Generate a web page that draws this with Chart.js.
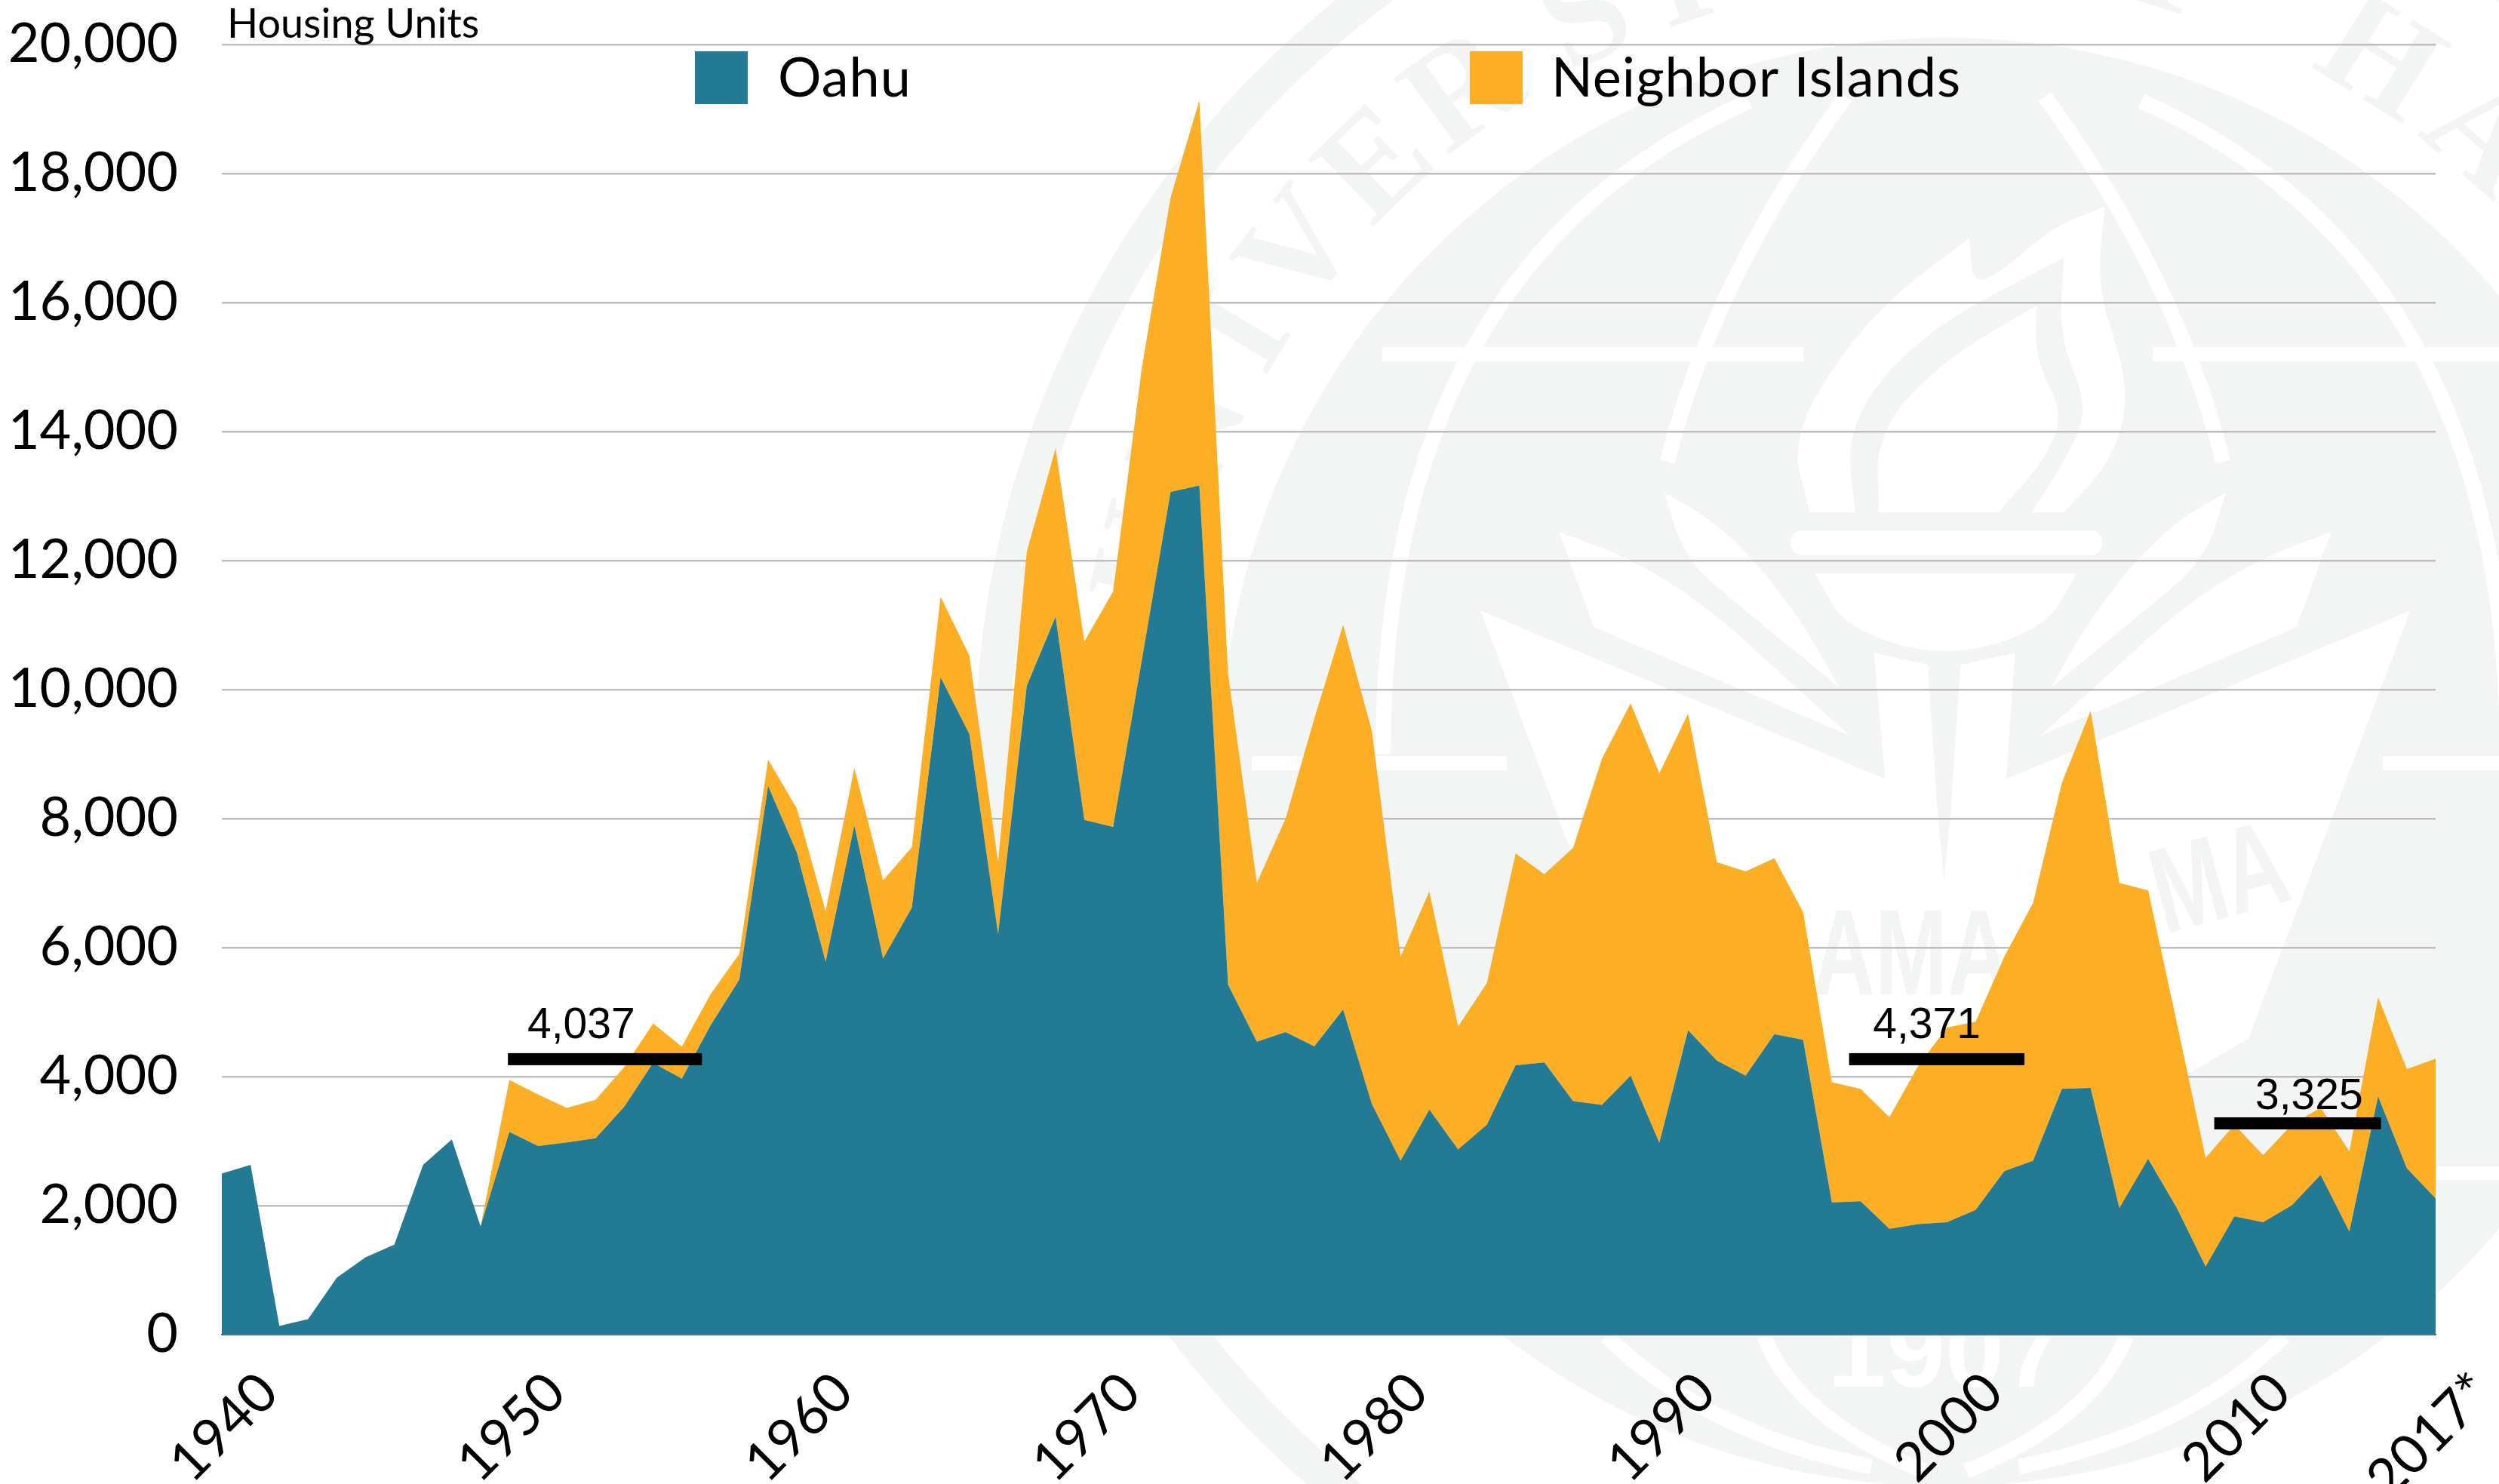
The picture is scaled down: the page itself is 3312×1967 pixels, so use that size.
<!DOCTYPE html>
<html>
<head>
<meta charset="utf-8">
<title>Housing Units</title>
<script src="https://cdn.jsdelivr.net/npm/chart.js@4/dist/chart.umd.min.js"></script>
<style>html,body{margin:0;padding:0;background:#fff}canvas{display:block}</style>
</head>
<body>
<canvas id="c" width="3312" height="1967"></canvas>
<script>
const years = [1940,1941,1942,1943,1944,1945,1946,1947,1948,1949,1950,1951,1952,1953,1954,1955,1956,1957,1958,1959,
  1960,1961,1962,1963,1964,1965,1966,1967,1968,1969,1970,1971,1972,1973,1974,1975,1976,1977,1978,1979,
  1980,1981,1982,1983,1984,1985,1986,1987,1988,1989,1990,1991,1992,1993,1994,1995,1996,1997,1998,1999,
  2000,2001,2002,2003,2004,2005,2006,2007,2008,2009,2010,2011,2012,2013,2014,2015,2016,2017];
const oahu = [2497,2632,135,239,884,1200,1394,2632,3026,1677,
  3142,2923,2980,3045,3535,4213,3968,4794,5503,8507,
  7474,5780,7895,5830,6620,10190,9310,6210,10060,11130,
  7980,7870,10460,13065,13165,5425,4542,4689,4469,5040,
  3575,2696,3487,2872,3253,4176,4220,3619,3560,4015,
  2974,4718,4249,4015,4659,4571,2051,2066,1641,1714,
  1744,1934,2535,2696,3810,3824,1963,2725,1963,1055,
  1832,1744,2007,2476,1597,3692,2579,2110];
const neighborIslands = [0,0,0,0,0,0,0,0,0,0,
  806,800,536,594,613,613,497,483,400,409,
  681,788,889,1210,935,1250,1220,1110,2080,2610,
  2765,3650,4530,4565,5970,4815,2462,3311,5084,5964,
  5788,3165,3385,1905,2198,3282,2916,3927,5363,5773,
  5729,4908,3077,3165,2726,1978,1861,1744,1729,2450,
  3017,2916,3326,4000,4747,5846,5041,4161,2867,1685,
  1421,1040,1246,1041,1245,1539,1538,2168];
const tickLabels = {1940:'1940',1950:'1950',1960:'1960',1970:'1970',1980:'1980',1990:'1990',2000:'2000',2010:'2010',2017:'2017*'};
const avgLabels = ['4,037','4,371','3,325'];
const avgStartYear = [1949.95,1996.6,2009.3];
const avgEndYear = [1956.7,2002.7,2015.1];
const avgLevel = [4270,4270,3275];
const avgLabelYear = [1952.5,1999.3,2012.6];
const avgLabelLevel = [4596,4596,3497];

const TEAL='#237a94', ORANGE='#fcaf24', GRAY='#f3f5f4';

/* ---- faint university seal behind the chart ---- */
const P8=(x,y)=>[1200+x/0.7424,y/1.568];
const PZ=(x,y)=>[1900+x/1.1529,640+y/2.0632];
const mir=p=>[5156-p[0],p[1]];
function blob(ctx,pts){ // smooth closed shape; a repeated point makes a sharp corner
  ctx.beginPath();
  const n=pts.length;
  ctx.moveTo((pts[n-1][0]+pts[0][0])/2,(pts[n-1][1]+pts[0][1])/2);
  for(let i=0;i<n;i++){const a=pts[i],b=pts[(i+1)%n];ctx.quadraticCurveTo(a[0],a[1],(a[0]+b[0])/2,(a[1]+b[1])/2);}
  ctx.closePath();ctx.fill();
}
function poly(ctx,pts){ctx.beginPath();pts.forEach((p,i)=>i?ctx.lineTo(p[0],p[1]):ctx.moveTo(p[0],p[1]));ctx.closePath();ctx.fill();}
function curve(ctx,a,c,b,w){ctx.lineWidth=w;ctx.beginPath();ctx.moveTo(a[0],a[1]);ctx.quadraticCurveTo(c[0],c[1],b[0],b[1]);ctx.stroke();}
const sealPlugin={id:'seal',beforeDraw(chart){
  const ctx=chart.ctx,cx=2578,cy=1000;
  ctx.save();
  ctx.fillStyle='#fff';ctx.fillRect(0,0,3312,1967);
  ctx.strokeStyle=GRAY;ctx.lineWidth=47;ctx.beginPath();ctx.arc(cx,cy,1262,0,Math.PI*2);ctx.stroke();
  // ring lettering
  ctx.fillStyle=GRAY;ctx.font='bold 190px "Liberation Serif"';ctx.textAlign='center';ctx.textBaseline='alphabetic';
  const ringLetters=[['U',-76],['N',-67],['I',-59],['V',-52],['E',-44],['R',-36],['S',-26],['I',-19],['T',-12],['Y',-3],['O',8],['F',17],['H',32],['A',41],['W',51],['A',61],['I',69],['I',75]];
  ringLetters.forEach(([l,a])=>{ctx.save();ctx.translate(cx,cy);ctx.rotate(a*Math.PI/180);ctx.fillText(l,0,-1030);ctx.restore();});
  // globe disc
  ctx.beginPath();ctx.arc(cx,1010,960,0,Math.PI*2);ctx.fill();
  // longitude & latitude bands
  ctx.strokeStyle='#fff';ctx.lineCap='butt';
  [[[2318,134],[1833,351],[1833,1000]],[[2446,128],[2270,370],[2210,612]],
   [[2338,1771],[2380,1880],[2550,1950]],[[2129,1771],[2260,1900],[2480,1944]]].forEach(s=>{
    curve(ctx,s[0],s[1],s[2],20);curve(ctx,mir(s[0]),mir(s[1]),mir(s[2]),20);
  });
  ctx.fillStyle='#fff';
  ctx.fillRect(1832,460,558,19);ctx.fillRect(2853,460,459,19);
  ctx.fillRect(1659,1002,338,19);ctx.fillRect(3158,1002,154,19);ctx.fillRect(3180,1546,132,18);
  // shield with the stem spike cut out of it
  poly(ctx,[[72,350],[72,350],[690,810],[673,465],[755,498],[770,900],[780,1085],[790,900],[805,498],[888,465],[875,810],[1492,350],[1245,1520]].map(p=>PZ(p[0],p[1]))
    .concat([[2899,1424],[2578,1560],[2257,1424],[2176,1377]]));
  // leaves
  const leafA=[[353,28],[353,28],[425,100],[500,230],[570,400],[620,560],[620,560],[470,340],[385,210]].map(p=>PZ(p[0],p[1]));
  const leafB=[[192,135],[192,135],[300,205],[420,340],[560,570],[635,690],[635,690],[245,395],[245,395]].map(p=>PZ(p[0],p[1]));
  [leafA,leafB].forEach(l=>{blob(ctx,l);blob(ctx,l.map(mir));});
  // flame
  blob(ctx,[[890,1065],[890,1065],[870,900],[950,650],[1047,495],[1047,495],[1050,590],[1075,570],[1130,470],[1180,430],[1180,430],[1172,600],[1205,800],[1190,950],[1140,1065],[1140,1065]].map(p=>P8(p[0],p[1])));
  ctx.fillStyle=GRAY;
  blob(ctx,[[935,1075],[935,1075],[925,880],[1000,690],[1140,535],[1140,535],[1135,700],[1165,850],[1140,960],[1105,1075],[1105,1075]].map(p=>P8(p[0],p[1])));
  ctx.fillStyle='#fff';
  blob(ctx,[[958,1065],[958,1065],[955,900],[1020,750],[1113,635],[1113,635],[1112,750],[1140,860],[1120,960],[1075,1065],[1075,1065]].map(p=>P8(p[0],p[1])));
  // torch cup
  const a=PZ(545,130),b=PZ(1022,198);
  ctx.beginPath();ctx.roundRect(a[0],a[1],b[0]-a[0],b[1]-a[1],16);ctx.fill();
  blob(ctx,[[583,248],[583,248],[982,248],[982,248],[935,400],[782,480],[630,400]].map(p=>PZ(p[0],p[1])));
  // banner lettering
  ctx.fillStyle=GRAY;ctx.font='bold 115px "Liberation Sans"';ctx.textAlign='center';
  ctx.save();ctx.translate(2533,1318);ctx.scale(1,1.4);ctx.fillText('AMA',0,0);ctx.restore();
  ctx.save();ctx.translate(2955,1215);ctx.rotate(-15*Math.PI/180);ctx.scale(1,1.4);ctx.fillText('MA',0,0);ctx.restore();
  // founding year, white on the seal
  ctx.fillStyle='#fff';ctx.font='bold 140px "Liberation Sans"';ctx.fillText('1907',cx,1838);
  ctx.restore();
}};

/* ---- period-average bars, legend keys and unit caption ---- */
const notesPlugin={id:'notes',afterDatasetsDraw(chart){
  const ctx=chart.ctx,x=chart.scales.x,y=chart.scales.y;
  const xp=v=>x.getPixelForValue(v-years[0]);
  ctx.save();
  avgLabels.forEach((t,i)=>{
    const x0=xp(avgStartYear[i]),x1=xp(avgEndYear[i]),yc=y.getPixelForValue(avgLevel[i]);
    ctx.fillStyle='#000';ctx.fillRect(x0,yc-8,x1-x0,16);
    ctx.font='57px "Liberation Sans"';ctx.textAlign='center';ctx.textBaseline='alphabetic';
    ctx.fillText(t,xp(avgLabelYear[i]),y.getPixelForValue(avgLabelLevel[i]));
  });
  const keyX=[921,1948],textX=[1031,2056];
  chart.data.datasets.forEach((d,i)=>{
    ctx.fillStyle=d.backgroundColor;ctx.fillRect(keyX[i],68,70,70);
    ctx.fillStyle='#000';ctx.font='72px Lato';ctx.letterSpacing='1px';ctx.textAlign='left';ctx.textBaseline='alphabetic';
    ctx.fillText(d.label,textX[i],128);
  });
  ctx.letterSpacing='0px';
  ctx.font='54px Lato';ctx.fillStyle='#000';ctx.fillText('Housing Units',301,50);
  ctx.restore();
}};

new Chart(document.getElementById('c'),{
  type:'line',
  data:{labels:years.map(String),datasets:[
    {label:'Oahu',data:oahu,backgroundColor:TEAL,borderWidth:0,pointRadius:0,tension:0,fill:'origin',stack:'a'},
    {label:'Neighbor Islands',data:neighborIslands,backgroundColor:ORANGE,borderWidth:0,pointRadius:0,tension:0,fill:'-1',stack:'a'}
  ]},
  options:{
    responsive:false,animation:false,
    layout:{padding:{left:0,right:84,top:59,bottom:0}},
    plugins:{legend:{display:false},tooltip:{enabled:false},title:{display:false}},
    scales:{
      x:{
        stacked:true,offset:false,
        grid:{display:false,drawTicks:false},
        border:{display:true,color:'#1d3f4c',width:1.5},
        afterFit(s){s.height=198;s.paddingLeft=0;s.paddingRight=0;},
        ticks:{autoSkip:false,minRotation:45,maxRotation:45,padding:34,labelOffset:62,color:'#000',font:{family:'Lato',size:72},
          callback(v,i){return tickLabels[years[i]]||'';}}
      },
      y:{
        stacked:true,min:0,max:20000,
        grid:{color:'#bdbdbd',lineWidth:2.5,drawTicks:false},
        border:{display:false},
        afterFit(s){s.width=294;s.paddingTop=0;s.paddingBottom=0;},
        ticks:{stepSize:2000,padding:58,color:'#000',font:{family:'Lato',size:72},
          callback(v){return v.toLocaleString('en-US');}}
      }
    }
  },
  plugins:[sealPlugin,notesPlugin]
});
</script>
</body>
</html>
